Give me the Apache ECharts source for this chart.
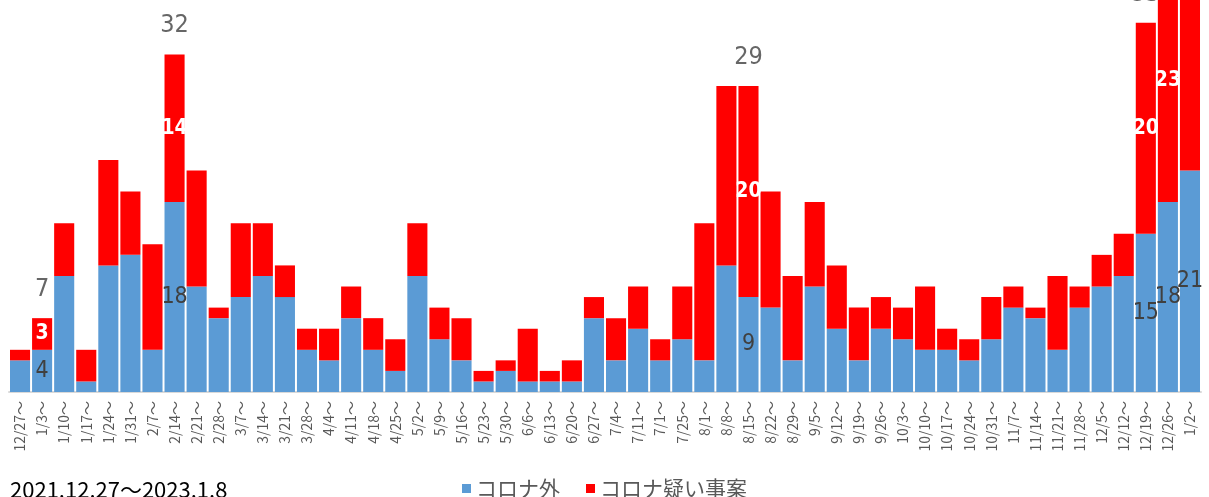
<!DOCTYPE html>
<html>
<head>
<meta charset="utf-8">
<title>コロナ外 / コロナ疑い事案</title>
<script src="https://cdn.jsdelivr.net/npm/echarts@6/dist/echarts.min.js"></script>
<style>
  html, body { margin: 0; padding: 0; background: #fff; }
  #chart { width: 1209px; height: 497px; }
</style>
</head>
<body>
<div id="chart"></div>
<script>
// weekly counts, 2021.12.27 - 2023.1.8
const categories = [
  '12/27～', '1/3～', '1/10～', '1/17～', '1/24～', '1/31～', '2/7～', '2/14～', '2/21～', '2/28～',
  '3/7～', '3/14～', '3/21～', '3/28～', '4/4～', '4/11～', '4/18～', '4/25～', '5/2～', '5/9～',
  '5/16～', '5/23～', '5/30～', '6/6～', '6/13～', '6/20～', '6/27～', '7/4～', '7/11～', '7/1～',
  '7/25～', '8/1～', '8/8～', '8/15～', '8/22～', '8/29～', '9/5～', '9/12～', '9/19～', '9/26～',
  '10/3～', '10/10～', '10/17～', '10/24～', '10/31～', '11/7～', '11/14～', '11/21～', '11/28～', '12/5～',
  '12/12～', '12/19～', '12/26～', '1/2～'
];
const outside = [
  3, 4, 11, 1, 12, 13, 4, 18, 10, 7,
  9, 11, 9, 4, 3, 7, 4, 2, 11, 5,
  3, 1, 2, 1, 1, 1, 7, 3, 6, 3,
  5, 3, 12, 9, 8, 3, 10, 6, 3, 6,
  5, 4, 4, 3, 5, 8, 7, 4, 8, 10,
  11, 15, 18, 21
];
const suspected = [
  1, 3, 5, 3, 10, 6, 10, 14, 11, 1,
  7, 5, 3, 2, 3, 3, 3, 3, 5, 3,
  4, 1, 1, 5, 1, 2, 2, 4, 4, 2,
  5, 13, 17, 20, 11, 8, 8, 6, 5, 3,
  3, 6, 2, 2, 4, 2, 1, 7, 2, 3,
  4, 20, 23, 36 // last one runs off the top, estimated
];
// weeks that carry value labels
const labelled = [1, 7, 33, 51, 52, 53];

const BLUE = '#5B9BD5';
const RED = '#FF0000';
const numFont = "'Liberation Sans Narrow', 'DejaVu Sans Condensed', sans-serif";
const jpFont = "'Noto Sans CJK JP', sans-serif";

const withLabels = (arr) => arr.map((v, i) => labelled.includes(i) ? { value: v, label: { show: true } } : v);
const totals = labelled.map((i) => [i, outside[i] + suspected[i]]);

const chart = echarts.init(document.getElementById('chart'));

chart.setOption({
  animation: false,
  // the original is cut off at the top, so the axis max sits at the window edge
  grid: { left: 9, right: 8, top: 0, bottom: 105 },
  legend: {
    data: ['コロナ外', 'コロナ疑い事案'],
    left: 'center',
    top: 473,
    icon: 'rect',
    itemWidth: 9,
    itemHeight: 9,
    itemGap: 26,
    textStyle: { fontSize: 21, color: '#595959', fontFamily: jpFont }
  },
  xAxis: {
    type: 'category',
    data: categories,
    axisLine: { lineStyle: { color: '#D9D9D9', width: 2 } },
    axisTick: { show: false },
    axisLabel: {
      interval: 0,
      rotate: 90,
      margin: 9,
      fontSize: 14,
      color: '#595959',
      fontFamily: jpFont
    }
  },
  yAxis: {
    type: 'value',
    min: 0,
    max: 37.16,
    show: false,
    splitLine: { show: false }
  },
  graphic: [{
    type: 'text',
    left: 10,
    top: 479,
    style: {
      text: '2021.12.27～2023.1.8',
      fontSize: 22,
      fill: '#000',
      fontFamily: jpFont
    }
  }],
  series: [
    {
      name: 'コロナ外',
      type: 'bar',
      stack: 'all',
      clip: false,
      barCategoryGap: '9%',
      itemStyle: { color: BLUE },
      label: {
        show: false,
        position: 'inside',
        fontSize: 23,
        color: '#404040',
        fontFamily: numFont
      },
      data: withLabels(outside)
    },
    {
      name: 'コロナ疑い事案',
      type: 'bar',
      stack: 'all',
      clip: false,
      itemStyle: { color: RED },
      label: {
        show: false,
        position: 'inside',
        fontSize: 21,
        fontWeight: 'bold',
        color: '#fff',
        fontFamily: numFont
      },
      data: withLabels(suspected)
    },
    {
      // totals above the labelled bars
      type: 'scatter',
      symbolSize: 0,
      silent: true,
      clip: false,
      z: 5,
      label: {
        show: true,
        position: 'top',
        distance: 16,
        fontSize: 25,
        color: '#404040',
        fontFamily: numFont,
        formatter: (p) => p.value[1]
      },
      data: totals
    }
  ]
});
</script>
</body>
</html>
